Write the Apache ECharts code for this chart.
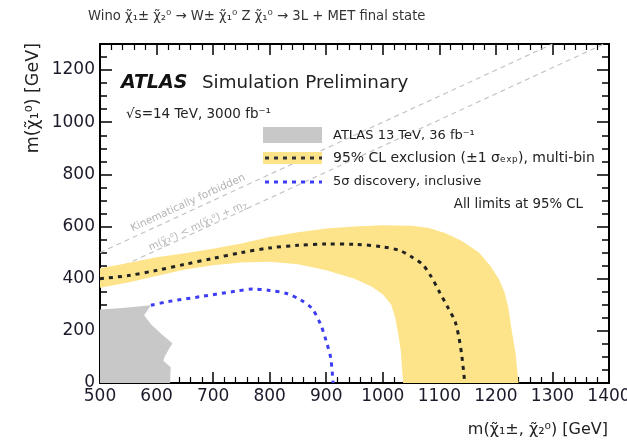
<!DOCTYPE html>
<html><head><meta charset="utf-8">
<script src="https://cdn.jsdelivr.net/npm/echarts@6/dist/echarts.min.js"></script>
<style>html,body{margin:0;padding:0;background:#fff}#c{width:627px;height:446px}</style>
</head><body><div id="c"></div>
<script>
// ---- data (GeV) ----
const xTicks = [500, 600, 700, 800, 900, 1000, 1100, 1200, 1300, 1400];
const yTicks = [0, 200, 400, 600, 800, 1000, 1200];
// yellow ±1σ band: outer contour (left to right, down to axis)
const bandOuterX = [500, 550, 600, 650, 700, 750, 800, 850, 900, 950, 1000, 1050, 1080, 1110, 1140, 1170, 1190, 1205, 1215, 1222, 1228, 1235, 1240];
const bandOuterY = [440, 460, 482, 498, 515, 535, 560, 578, 592, 600, 605, 603, 595, 575, 545, 500, 450, 400, 350, 290, 200, 110, 0];
// inner contour (left to right, down to axis)
const bandInnerX = [500, 550, 600, 650, 700, 750, 800, 850, 900, 950, 980, 1000, 1015, 1022, 1028, 1032, 1036];
const bandInnerY = [365, 385, 410, 435, 452, 462, 465, 455, 432, 400, 370, 340, 300, 250, 180, 120, 0];
// expected exclusion (black dashed)
const expX = [500, 550, 600, 650, 700, 750, 800, 850, 900, 950, 1000, 1030, 1050, 1070, 1085, 1100, 1115, 1128, 1135, 1140, 1145];
const expY = [400, 412, 432, 455, 478, 500, 518, 528, 533, 532, 522, 508, 485, 455, 410, 350, 290, 235, 170, 100, 0];
// 5σ discovery (blue dotted)
const discX = [590, 620, 680, 740, 770, 800, 830, 855, 875, 890, 900, 908, 912];
const discY = [298, 312, 332, 352, 360, 355, 343, 318, 285, 225, 160, 95, 0];
// ATLAS 13 TeV 36 fb-1 excluded region (grey)
const grayX = [500, 500, 540, 590, 578, 590, 610, 628, 622, 614, 612, 625, 624];
const grayY = [0, 282, 288, 298, 260, 225, 185, 152, 130, 100, 85, 60, 0];
// kinematic boundaries m(chi10)=m(chi20) and m(chi10)=m(chi20)-mZ
const diag1X = [500, 1300];
const diag1Y = [500, 1300];
const diag2X = [500, 1391];
const diag2Y = [409, 1300];

const FONT = 'DejaVu Sans';
const zip = (xs, ys) => xs.map((x, i) => [x, ys[i]]);

function polygonSeries(name, pts, color, z) {
  return {
    type: 'custom', name, silent: true, clip: true, z,
    xAxisIndex: 0, yAxisIndex: 0,
    data: pts,
    renderItem: (params, api) => {
      if (params.dataIndex !== 0) return null;
      return {
        type: 'polygon',
        shape: { points: pts.map(p => api.coord(p)) },
        style: { fill: color }
      };
    }
  };
}

const bandPts = zip(bandOuterX, bandOuterY).concat(zip(bandInnerX, bandInnerY).reverse());
const grayPts = zip(grayX, grayY);

const chart = echarts.init(document.getElementById('c'), null, { renderer: 'canvas' });

const axisLine = { show: true, onZero: false, lineStyle: { color: '#000', width: 2 } };
function xAx(pos, labels) {
  return {
    type: 'value', position: pos, min: 500, max: 1400, interval: 100,
    axisLine, splitLine: { show: false },
    axisTick: { show: true, inside: true, length: 11, lineStyle: { color: '#000', width: 1.5 } },
    minorTick: { show: true, splitNumber: 5, length: 6, lineStyle: { color: '#000', width: 1.2 } },
    axisLabel: labels ? { show: true, margin: 5, fontFamily: FONT, fontSize: 17, color: '#1a1a2a',
      formatter: v => xTicks.includes(v) ? String(v) : '' } : { show: false }
  };
}
function yAx(pos, major, labels) {
  return {
    type: 'value', position: pos, min: 0, max: 1300, interval: major ? 200 : 50,
    axisLine: major ? axisLine : { show: false }, splitLine: { show: false },
    axisTick: { show: true, inside: true, length: major ? 12 : 7, lineStyle: { color: '#000', width: 1.5 } },
    axisLabel: labels ? { show: true, margin: 5, fontFamily: FONT, fontSize: 17, color: '#1a1a2a',
      formatter: v => yTicks.includes(v) ? String(v) : '' } : { show: false }
  };
}

const txt = (x, y, text, size, extra, rot) => ({ type: 'text', x, y, z: 10, rotation: rot || 0,
  style: Object.assign({ text, fontFamily: FONT, fontSize: size, fill: '#222', verticalAlign: 'middle' }, extra || {}) });

const option = {
  animation: false,
  backgroundColor: '#fff',
  grid: { left: 100, right: 18, top: 44, bottom: 63, outerBoundsMode: 'none', containLabel: false },
  xAxis: [xAx('bottom', true), xAx('top', false)],
  yAxis: [yAx('left', true, true), yAx('right', true, false), yAx('left', false, false), yAx('right', false, false)],
  series: [
    { type: 'line', name: 'diag1', data: zip(diag1X, diag1Y), symbol: 'none', silent: true, z: 1,
      lineStyle: { color: '#c4c4c4', width: 1.2, type: [5, 4] } },
    { type: 'line', name: 'diag2', data: zip(diag2X, diag2Y), symbol: 'none', silent: true, z: 1,
      lineStyle: { color: '#c4c4c4', width: 1.2, type: [5, 4] } },
    polygonSeries('95% CL exclusion band', bandPts, '#fde48a', 2),
    polygonSeries('ATLAS 13 TeV, 36 fb-1', grayPts, '#c8c8c8', 3),
    { type: 'line', name: 'expected', data: zip(expX, expY), symbol: 'none', smooth: 0.3, silent: true, z: 4,
      lineStyle: { color: '#222', width: 3, type: [4, 5] } },
    { type: 'line', name: 'discovery', data: zip(discX, discY), symbol: 'none', smooth: 0.3, silent: true, z: 4,
      lineStyle: { color: '#3c3cf5', width: 3, type: [4, 5] } }
  ],
  graphic: [
    txt(88, 17, 'Wino χ̃₁± χ̃₂⁰ → W± χ̃₁⁰ Z χ̃₁⁰ → 3L + MET final state', 13.2, { fill: '#333' }),
    txt(121, 83, 'ATLAS', 19, { fontWeight: 'bold', fontStyle: 'italic', fill: '#111' }),
    txt(202, 83, 'Simulation Preliminary', 18.3),
    txt(126, 114, '√s=14 TeV, 3000 fb⁻¹', 13.5),
    // legend
    { type: 'rect', z: 10, shape: { x: 263, y: 127, width: 59, height: 16 }, style: { fill: '#c8c8c8' } },
    { type: 'rect', z: 10, shape: { x: 263, y: 152, width: 59, height: 12 }, style: { fill: '#fde48a' } },
    { type: 'line', z: 11, shape: { x1: 265, y1: 158, x2: 322, y2: 158 }, style: { stroke: '#333', lineWidth: 3, lineDash: [4, 5] } },
    { type: 'line', z: 11, shape: { x1: 265, y1: 182, x2: 322, y2: 182 }, style: { stroke: '#3c3cf5', lineWidth: 3, lineDash: [4, 5] } },
    txt(333, 136, 'ATLAS 13 TeV, 36 fb⁻¹', 13),
    txt(333, 158, '95% CL exclusion (±1 σₑₓₚ), multi-bin', 14),
    txt(333, 182, '5σ discovery, inclusive', 13),
    txt(583, 205, 'All limits at 95% CL', 13.3, { align: 'right' }),
    // kinematic labels (above their boundary lines)
    txt(188, 203, 'Kinematically forbidden', 10.5, { fill: '#b4b4b4', align: 'center' }, 0.43),
    txt(198, 226, 'm(χ̃₂⁰) < m(χ̃₁⁰) + m{s|Z}', 10, { fill: '#b4b4b4', align: 'center',
      rich: { s: { fontFamily: FONT, fontSize: 7, fill: '#b4b4b4', padding: [6, 0, 0, 0] } } }, 0.43),
    // axis titles
    txt(608, 430, 'm(χ̃₁±, χ̃₂⁰) [GeV]', 16, { align: 'right' }),
    txt(33, 43, 'm(χ̃₁⁰) [GeV]', 17.5, { align: 'right' }, Math.PI / 2)
  ]
};
chart.setOption(option);
</script></body></html>
